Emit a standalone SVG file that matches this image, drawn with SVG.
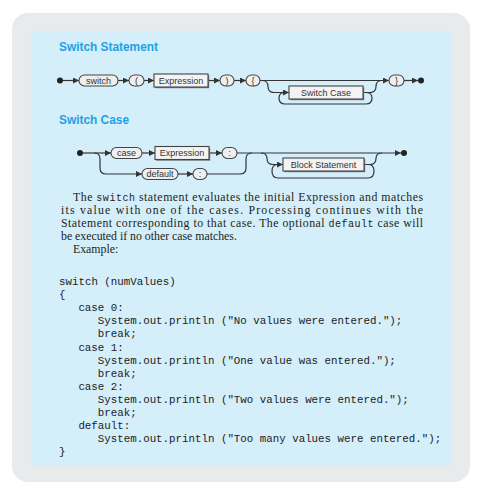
<svg xmlns="http://www.w3.org/2000/svg" width="484" height="494" viewBox="0 0 484 494">
  <defs>
    <marker id="arr" viewBox="0 0 6 6" refX="6" refY="3" markerWidth="6" markerHeight="6" orient="auto" markerUnits="userSpaceOnUse">
      <path d="M0,0 L6,3 L0,6 z" fill="#333"/>
    </marker>
  </defs>
  <style>
    .line{fill:none;stroke:#333;stroke-width:1.2}
    .term{fill:#efefef;stroke:#444;stroke-width:1.1}
    .nt{fill:#f3f3f3;stroke:#444;stroke-width:1.1}
    .shadow{fill:#777}
    .dot{fill:#222}
    .lbl{font-family:"Liberation Sans",Arial,sans-serif;font-size:9px;fill:#333;text-anchor:middle}
    .title{font-family:"Liberation Sans",Arial,sans-serif;font-weight:bold;font-size:12px;fill:#1ea2e4}
    .para{font-family:"Liberation Serif","Times New Roman",serif;font-size:11.8px;fill:#231f20}
    .mono{font-family:"Liberation Mono","Courier New",monospace;font-size:10px}
    .code{font-family:"Liberation Mono","Courier New",monospace;font-size:10.8px;fill:#222}
  </style>

  <!-- page and panels -->
  <rect width="484" height="494" fill="#ffffff"/>
  <rect x="12" y="13" width="458" height="469" rx="16" fill="#e8eaeb"/>
  <rect x="31" y="31" width="421" height="435" rx="4" fill="#d4eefa"/>

  <text class="title" x="59" y="51" textLength="99" lengthAdjust="spacingAndGlyphs">Switch Statement</text>
  <text class="title" x="59" y="124" textLength="70" lengthAdjust="spacingAndGlyphs">Switch Case</text>

  <!-- connectors -->
  <g id="connectors">
    <!-- switch statement -->
    <path class="line" d="M63,80.5 H79" marker-end="url(#arr)"/>
    <path class="line" d="M118,80.5 H129" marker-end="url(#arr)"/>
    <path class="line" d="M144,80.5 H154" marker-end="url(#arr)"/>
    <path class="line" d="M208,80.5 H220" marker-end="url(#arr)"/>
    <path class="line" d="M234,80.5 H246" marker-end="url(#arr)"/>
    <path class="line" d="M260,80.5 H389" marker-end="url(#arr)"/>
    <path class="line" d="M404,80.5 H418" marker-end="url(#arr)"/>
    <path class="line" d="M262,80.5 Q268,80.5 268,86.5 Q268,92.5 274,92.5 H289" marker-end="url(#arr)"/>
    <path class="line" d="M363,92.5 H370 Q376,92.5 376,86.5 Q376,80.5 382,80.5"/>
    <path class="line" d="M366,92.5 Q372,92.5 372,98 Q372,104 366,104 H285 Q279,104 279,98 Q279,92.5 285,92.5"/>

    <!-- switch case -->
    <path class="line" d="M83,153 H111" marker-end="url(#arr)"/>
    <path class="line" d="M94,153 Q100,153 100,159 V168 Q100,174 106,174 H142" marker-end="url(#arr)"/>
    <path class="line" d="M142,153 H155" marker-end="url(#arr)"/>
    <path class="line" d="M209,153 H222" marker-end="url(#arr)"/>
    <path class="line" d="M237,153 H401" marker-end="url(#arr)"/>
    <path class="line" d="M178,174 H193" marker-end="url(#arr)"/>
    <path class="line" d="M207,174 H240 Q246,174 246,168 V159 Q246,153 252,153"/>
    <path class="line" d="M261,153 Q267,153 267,158.5 Q267,164.5 273,164.5 H283" marker-end="url(#arr)"/>
    <path class="line" d="M364,164.5 H370 Q376,164.5 376,158.5 Q376,153 382,153"/>
    <path class="line" d="M368,164.5 Q374,164.5 374,171 Q374,178 368,178 H278 Q272,178 272,171 Q272,164.5 278,164.5"/>
  </g>

  <!-- switch statement nodes -->
  <g id="ss-start"><circle class="dot" cx="60" cy="80.5" r="3"/></g>
  <g id="ss-switch"><rect class="term" x="79" y="75" width="39" height="11" rx="5.5"/><text class="lbl" x="98.5" y="83.8">switch</text></g>
  <g id="ss-lparen"><rect class="term" x="129" y="75" width="15" height="11" rx="5.5"/><text class="lbl" x="136.5" y="83.8">(</text></g>
  <g id="ss-expr"><rect class="shadow" x="155.2" y="75.2" width="54" height="13"/><rect class="nt" x="154" y="74" width="54" height="13"/><text class="lbl" x="181" y="83.8">Expression</text></g>
  <g id="ss-rparen"><rect class="term" x="220" y="75" width="14" height="11" rx="5.5"/><text class="lbl" x="227" y="83.8">)</text></g>
  <g id="ss-lbrace"><rect class="term" x="246" y="75" width="14" height="11" rx="5.5"/><text class="lbl" x="253" y="83.8">{</text></g>
  <g id="ss-case"><rect class="shadow" x="290.2" y="87.2" width="74" height="13"/><rect class="nt" x="289" y="86" width="74" height="13"/><text class="lbl" x="326" y="95.8">Switch Case</text></g>
  <g id="ss-rbrace"><rect class="term" x="389" y="75" width="15" height="11" rx="5.5"/><text class="lbl" x="396.5" y="83.8">}</text></g>
  <g id="ss-end"><circle class="dot" cx="421" cy="80.5" r="3"/></g>

  <!-- switch case nodes -->
  <g id="sc-start"><circle class="dot" cx="80" cy="153" r="3"/></g>
  <g id="sc-case"><rect class="term" x="111" y="147.5" width="31" height="11" rx="5.5"/><text class="lbl" x="126.5" y="156.3">case</text></g>
  <g id="sc-expr"><rect class="shadow" x="156.2" y="147.7" width="54" height="13"/><rect class="nt" x="155" y="146.5" width="54" height="13"/><text class="lbl" x="182" y="156.3">Expression</text></g>
  <g id="sc-colon1"><rect class="term" x="222" y="147.5" width="15" height="11" rx="5.5"/><text class="lbl" x="229.5" y="156.3">:</text></g>
  <g id="sc-default"><rect class="term" x="142" y="168.5" width="36" height="11" rx="5.5"/><text class="lbl" x="160" y="177.3">default</text></g>
  <g id="sc-colon2"><rect class="term" x="193" y="168.5" width="14" height="11" rx="5.5"/><text class="lbl" x="200" y="177.3">:</text></g>
  <g id="sc-block"><rect class="shadow" x="284.2" y="159.2" width="81" height="13"/><rect class="nt" x="283" y="158" width="81" height="13"/><text class="lbl" x="323.5" y="167.8">Block Statement</text></g>
  <g id="sc-end"><circle class="dot" cx="404" cy="153" r="3"/></g>

  <!-- description -->
  <text class="para" x="73" y="201" textLength="350" lengthAdjust="spacing">The <tspan class="mono">switch</tspan> statement evaluates the initial Expression and matches</text>
  <text class="para" x="61" y="214" textLength="362" lengthAdjust="spacing">its value with one of the cases. Processing continues with the</text>
  <text class="para" x="61" y="227" textLength="362" lengthAdjust="spacing">Statement corresponding to that case. The optional <tspan class="mono">default</tspan> case will</text>
  <text class="para" x="61" y="240">be executed if no other case matches.</text>
  <text class="para" x="73" y="253">Example:</text>

  <!-- code sample -->
  <g class="code">
    <text x="59" y="285">switch (numValues)</text>
    <text x="59" y="298.1">{</text>
    <text x="78.4" y="311.2">case 0:</text>
    <text x="97.8" y="324.3">System.out.println ("No values were entered.");</text>
    <text x="97.8" y="337.4">break;</text>
    <text x="78.4" y="350.5">case 1:</text>
    <text x="97.8" y="363.6">System.out.println ("One value was entered.");</text>
    <text x="97.8" y="376.7">break;</text>
    <text x="78.4" y="389.8">case 2:</text>
    <text x="97.8" y="402.9">System.out.println ("Two values were entered.");</text>
    <text x="97.8" y="416">break;</text>
    <text x="78.4" y="429.1">default:</text>
    <text x="97.8" y="442.2">System.out.println ("Too many values were entered.");</text>
    <text x="59" y="455.3">}</text>
  </g>
</svg>
